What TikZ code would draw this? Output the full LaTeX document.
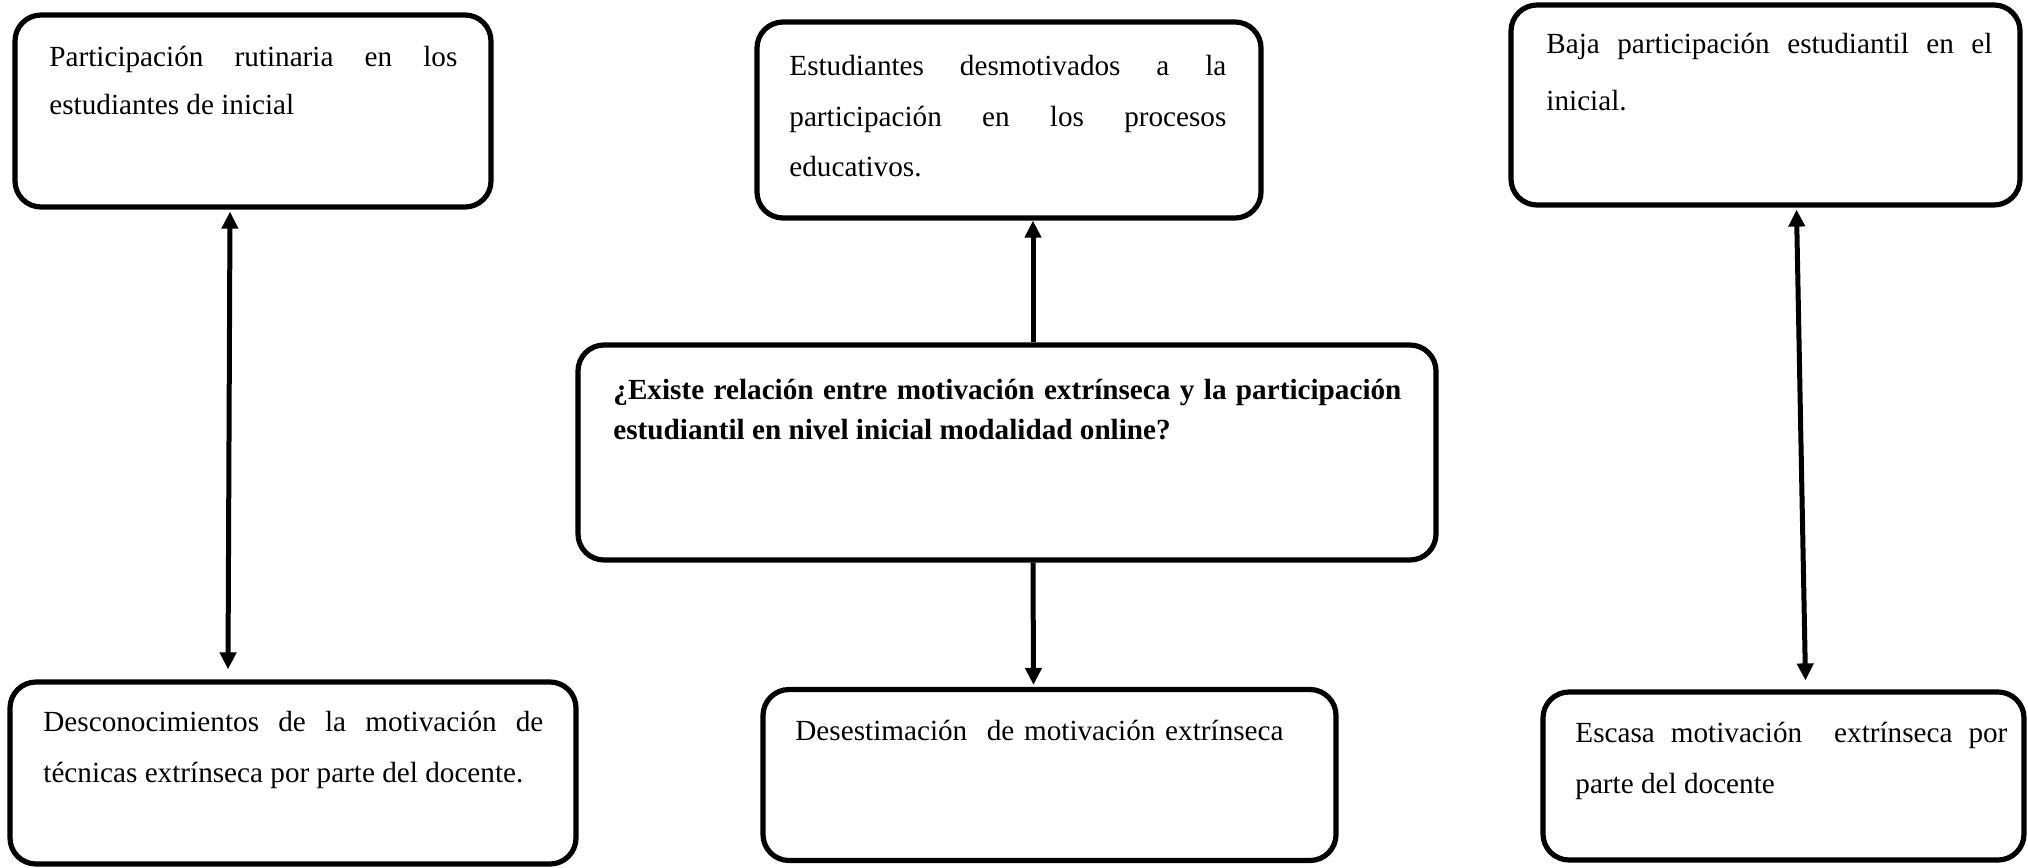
\documentclass[tikz,border=0pt]{standalone}
\usepackage{fontspec}
\setmainfont{Liberation Serif}
\usetikzlibrary{arrows.meta,calc}
\tikzset{
  box/.style={draw=black, line width=2.6pt, rounded corners=13pt, inner sep=0pt},
  txt/.style={anchor=base west, inner sep=0pt, align=justify},
  conn/.style={line width=2.5pt, -{Triangle[length=8.5pt,width=8pt]}},
  bicon/.style={line width=2.5pt, {Triangle[length=8.5pt,width=8pt]}-{Triangle[length=8.5pt,width=8pt]}},
}
\begin{document}
\begin{tikzpicture}[x=0.5pt,y=-0.5pt]
\useasboundingbox (0,0) rectangle (2028,867);
% boxes
\node[box, minimum width=238pt, minimum height=96pt] (tl) at (253,111) {};
\node[box, minimum width=252pt, minimum height=98pt] (tm) at (1009,120) {};
\node[box, minimum width=254.5pt, minimum height=100pt] (tr) at (1765.5,105) {};
\node[box, minimum width=429pt, minimum height=107.5pt] (c) at (1007,452.5) {};
\node[box, minimum width=283pt, minimum height=91pt] (bl) at (293,773) {};
\node[box, minimum width=286.5pt, minimum height=85.5pt] (bm) at (1049.5,775) {};
\node[box, minimum width=240.5pt, minimum height=84pt] (br) at (1783.5,776) {};
% texts
\node[txt, text width=204pt, font=\fontsize{14.6}{24.5}\selectfont] (tlt) at (49,66)
  {Participación rutinaria en los\linebreak estudiantes de inicial};
\node[txt, text width=218.5pt, font=\fontsize{14.6}{25.5}\selectfont] (tmt) at (789,75)
  {Estudiantes desmotivados a la\linebreak participación en los procesos\linebreak educativos.};
\node[txt, text width=223pt, font=\fontsize{14.6}{28.5}\selectfont] (trt) at (1546,53)
  {Baja participación estudiantil en el\linebreak inicial.};
\node[txt, text width=394pt, font=\fontsize{14.6}{20}\selectfont\bfseries] (ct) at (613,399)
  {¿Existe relación entre motivación extrínseca y la participación\linebreak estudiantil en nivel inicial modalidad online?};
\node[txt, text width=250pt, font=\fontsize{14.6}{25.5}\selectfont] (blt) at (43,731)
  {Desconocimientos de la motivación de\linebreak técnicas extrínseca por parte del docente.};
\node[txt, text width=270pt, align=left, font=\fontsize{14.6}{25.5}\selectfont] (bmt) at (795,740)
  {\mbox{Desestimación\ \ de motivación extrínseca}};
\node[txt, text width=216pt, font=\fontsize{14.6}{25.5}\selectfont] (brt) at (1575,742)
  {Escasa motivación\ \ extrínseca por\linebreak parte del docente};
% connectors
\draw[bicon] ([xshift=-11.5pt,yshift=-1pt]tl.south) -- ([xshift=-32.5pt,yshift=5pt]bl.north);
\draw[conn] ([xshift=13pt]c.north) -- ([xshift=12pt]tm.south);
\draw[conn] ([xshift=13pt]c.south) -- ([xshift=-8pt,yshift=1pt]bm.north);
\draw[bicon] ([xshift=15.5pt,yshift=-1pt]tr.south) -- ([xshift=11pt,yshift=4.5pt]br.north);
\end{tikzpicture}
\end{document}
